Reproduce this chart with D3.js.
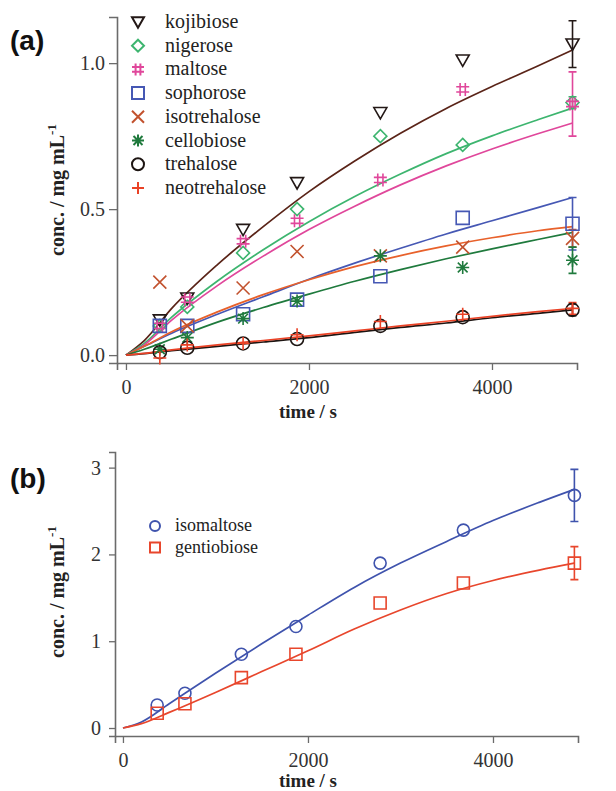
<!DOCTYPE html>
<html>
<head>
<style>
body { margin: 0; background: #fff; }
</style>
</head>
<body>
<svg id="chart" width="616" height="791"></svg>
<script src="https://d3js.org/d3.v7.min.js"></script>
<script>
// sampling times (s), both panels
var times = [370, 670, 1280, 1870, 2780, 3680, 4880];
var fitTimes = [0, 200, 500, 1000, 1500, 2000, 2500, 3000, 3500, 4000, 4500, 4880];

// ---- panel (a) ----
var namesA = ["kojibiose", "nigerose", "maltose", "sophorose", "isotrehalose", "cellobiose", "trehalose", "neotrehalose"];
var kojibiose    = [0.12, 0.195, 0.43, 0.59, 0.83, 1.01, 1.065];
var nigerose     = [0.10, 0.165, 0.35, 0.50, 0.75, 0.72, 0.865];
var maltose      = [0.10, 0.19, 0.39, 0.46, 0.60, 0.91, 0.86];
var sophorose    = [0.10, 0.10, 0.14, 0.19, 0.27, 0.47, 0.45];
var isotrehalose = [0.25, 0.10, 0.23, 0.355, 0.34, 0.37, 0.40];
var cellobiose   = [0.02, 0.06, 0.125, 0.185, 0.34, 0.30, 0.325];
var trehalose    = [0.01, 0.025, 0.04, 0.055, 0.10, 0.13, 0.155];
var neotrehalose = [-0.01, 0.035, 0.04, 0.07, 0.115, 0.14, 0.16];
// error bars, last time point only
var errA = [0.08, 0.02, 0.11, 0.09, 0.03, 0.045, 0.02, 0.02];

var fitKojibiose    = [0, 0.05, 0.16, 0.31, 0.44, 0.56, 0.665, 0.76, 0.845, 0.92, 0.99, 1.045];
var fitNigerose     = [0, 0.04, 0.13, 0.254, 0.361, 0.457, 0.543, 0.62, 0.69, 0.751, 0.806, 0.846];
var fitMaltose      = [0, 0.035, 0.12, 0.238, 0.339, 0.43, 0.51, 0.583, 0.648, 0.706, 0.758, 0.795];
var fitSophorose    = [0, 0.03, 0.075, 0.14, 0.20, 0.26, 0.315, 0.366, 0.415, 0.46, 0.505, 0.54];
var fitIsotrehalose = [0, 0.03, 0.08, 0.148, 0.207, 0.258, 0.303, 0.341, 0.374, 0.402, 0.426, 0.44];
var fitCellobiose   = [0, 0.02, 0.055, 0.113, 0.163, 0.209, 0.253, 0.293, 0.33, 0.364, 0.396, 0.42];
var fitTrehalose    = [0, 0.005, 0.015, 0.03, 0.045, 0.06, 0.078, 0.095, 0.11, 0.128, 0.143, 0.155];
var fitNeotrehalose = [0, 0.006, 0.018, 0.035, 0.05, 0.066, 0.083, 0.10, 0.116, 0.133, 0.149, 0.16];

var yTicksA = [0, 0.5, 1.0];
var xTicks = [0, 2000, 4000];

// ---- panel (b) ----
var namesB = ["isomaltose", "gentiobiose"];
var isomaltose  = [0.265, 0.40, 0.85, 1.17, 1.90, 2.28, 2.68];
var gentiobiose = [0.17, 0.28, 0.58, 0.85, 1.44, 1.67, 1.90];
var errB = [0.30, 0.19];
var fitIsomaltose  = [0, 0.07, 0.28, 0.63, 0.97, 1.30, 1.62, 1.90, 2.15, 2.39, 2.60, 2.75];
var fitGentiobiose = [0, 0.05, 0.18, 0.41, 0.65, 0.89, 1.14, 1.36, 1.55, 1.70, 1.82, 1.90];
var yTicksB = [0, 1, 2, 3];

// styles
var markA = ["tri", "diamond", "hash", "square", "cross", "star", "circle", "plus"];
var colA = ["#231816", "#3db56f", "#e0479b", "#4658b4", "#c2522e", "#1f7a3d", "#1d1512", "#ea4226"];
var lineColA = ["#5a2418", "#3db56f", "#e0479b", "#4658b4", "#e8612b", "#1f7a3d", "#1d1512", "#ea4226"];
var markB = ["circle", "square"];
var colB = ["#3f53ad", "#e8462c"];

var dataA = [kojibiose, nigerose, maltose, sophorose, isotrehalose, cellobiose, trehalose, neotrehalose];
var fitsA = [fitKojibiose, fitNigerose, fitMaltose, fitSophorose, fitIsotrehalose, fitCellobiose, fitTrehalose, fitNeotrehalose];
var dataB = [isomaltose, gentiobiose];
var fitsB = [fitIsomaltose, fitGentiobiose];

var SERIF = '"Liberation Serif", "Times New Roman", "DejaVu Serif", serif';
var SANS = '"Liberation Sans", Arial, sans-serif';

var svg = d3.select("#chart");

function markerPath(type, s) {
    var h = s / 2;
    switch (type) {
        case "tri": return "M" + (-h) + "," + (-h * 0.8) + "L" + h + "," + (-h * 0.8) + "L0," + (h * 0.95) + "Z";
        case "diamond": return "M0," + (-h) + "L" + h + ",0L0," + h + "L" + (-h) + ",0Z";
        case "square": return "M" + (-h) + "," + (-h) + "h" + s + "v" + s + "h" + (-s) + "Z";
        case "cross": return "M" + (-h) + "," + (-h) + "L" + h + "," + h + "M" + h + "," + (-h) + "L" + (-h) + "," + h;
        case "plus": return "M" + (-h) + ",0H" + h + "M0," + (-h) + "V" + h;
        case "star": return "M" + (-h) + ",0H" + h + "M0," + (-h) + "V" + h +
            "M" + (-h * 0.75) + "," + (-h * 0.75) + "L" + (h * 0.75) + "," + (h * 0.75) +
            "M" + (h * 0.75) + "," + (-h * 0.75) + "L" + (-h * 0.75) + "," + (h * 0.75);
        case "hash": var q = h * 0.4;
            return "M" + (-q) + "," + (-h) + "V" + h + "M" + q + "," + (-h) + "V" + h +
                "M" + (-h) + "," + (-q) + "H" + h + "M" + (-h) + "," + q + "H" + h;
        case "circle": return d3.symbol(d3.symbolCircle, Math.PI * h * h)();
    }
}

function drawPanel(opt) {
    var x = d3.scaleLinear().domain(opt.xDomain).range(opt.xRange);
    var y = d3.scaleLinear().domain(opt.yDomain).range(opt.yRange);
    var g = svg.append("g");

    // axes
    var yAxis = d3.axisLeft(y).tickValues(opt.yTicks).tickFormat(opt.yFmt).tickSize(opt.yTickSize).tickPadding(opt.yPad);
    var xAxis = d3.axisBottom(x).tickValues(xTicks).tickFormat(d3.format("d")).tickSize(7).tickPadding(opt.xPad);
    var ya = g.append("g").attr("transform", "translate(" + opt.xRange[0] + ",0)").call(yAxis);
    var xa = g.append("g").attr("transform", "translate(0," + opt.yRange[0] + ")").call(xAxis);
    [ya, xa].forEach(function(a) {
        a.select(".domain").attr("stroke", "#6b6b6b").attr("stroke-width", 1.6);
        a.selectAll(".tick line").attr("stroke", "#6b6b6b").attr("stroke-width", 1.3);
        a.selectAll(".tick text").style("font-family", SERIF).style("font-size", "20px").attr("fill", "#333");
    });

    // fitted curves
    var line = d3.line().x(function(d) { return x(d[0]); }).y(function(d) { return y(d[1]); })
        .curve(d3.curveMonotoneX);
    opt.fits.forEach(function(f, i) {
        g.append("path").datum(fitTimes.map(function(t, j) { return [t, f[j]]; }))
            .attr("d", line).attr("fill", "none")
            .attr("stroke", opt.lineCols[i]).attr("stroke-width", 1.7);
    });

    // error bars at last point
    opt.data.forEach(function(s, i) {
        var last = times.length - 1, xc = x(times[last]);
        var y0 = y(s[last] - opt.err[i]), y1 = y(s[last] + opt.err[i]);
        g.append("path")
            .attr("d", "M" + xc + "," + y0 + "V" + y1 + "M" + (xc - 4) + "," + y0 + "h8M" + (xc - 4) + "," + y1 + "h8")
            .attr("stroke", opt.cols[i]).attr("stroke-width", 1.6).attr("fill", "none");
    });

    // markers
    opt.data.forEach(function(s, i) {
        g.selectAll(null).data(s).enter().append("path")
            .attr("transform", function(d, j) { return "translate(" + x(times[j]) + "," + y(d) + ")"; })
            .attr("d", markerPath(opt.marks[i], opt.size))
            .attr("fill", "none").attr("stroke", opt.cols[i]).attr("stroke-width", 1.6);
    });

    // legend
    opt.names.forEach(function(n, i) {
        var ly = opt.legY + i * opt.legStep;
        g.append("path").attr("transform", "translate(" + opt.legX + "," + ly + ")")
            .attr("d", markerPath(opt.marks[i], opt.legSize))
            .attr("fill", "none").attr("stroke", opt.cols[i]).attr("stroke-width", 2);
        g.append("text").attr("x", opt.legX + opt.legGap).attr("y", ly + opt.legFont * 0.3)
            .style("font-family", SERIF).style("font-size", opt.legFont + "px")
            .attr("fill", "#222").text(n);
    });

    // titles
    var yt = g.append("text")
        .attr("transform", "translate(" + opt.yTitleX + "," + opt.yTitleY + ") rotate(-90)")
        .attr("text-anchor", "middle").attr("fill", "#222")
        .style("font-family", SERIF).style("font-weight", "bold").style("font-size", "20px");
    yt.append("tspan").text("conc. / mg mL");
    yt.append("tspan").attr("dy", -8).style("font-size", "13px").text("-1");
    g.append("text").attr("x", opt.xTitleX).attr("y", opt.xTitleY)
        .attr("text-anchor", "middle").attr("fill", "#222")
        .style("font-family", SERIF).style("font-weight", "bold").style("font-size", "19px")
        .text("time / s");
    g.append("text").attr("x", 10).attr("y", opt.panelY).attr("fill", "#111")
        .style("font-family", SANS).style("font-weight", "bold").style("font-size", "28px")
        .text(opt.panel);
}

drawPanel({
    panel: "(a)", panelY: 50,
    xDomain: [-98, 4929], xRange: [117, 577],
    yDomain: [-0.027, 1.158], yRange: [363, 17],
    yTicks: yTicksA, yFmt: d3.format(".1f"), yTickSize: 8, yPad: 4, xPad: 10,
    data: dataA, fits: fitsA, err: errA, names: namesA,
    marks: markA, cols: colA, lineCols: lineColA, size: 13, legSize: 12,
    legX: 138, legY: 22, legStep: 23.7, legGap: 27, legFont: 20,
    yTitleX: 64, yTitleY: 190, xTitleX: 308, xTitleY: 418
});

drawPanel({
    panel: "(b)", panelY: 488,
    xDomain: [-86, 4919], xRange: [115, 578],
    yDomain: [-0.092, 3.18], yRange: [736, 452],
    yTicks: yTicksB, yFmt: d3.format("d"), yTickSize: 6, yPad: 8, xPad: 10,
    data: dataB, fits: fitsB, err: errB, names: namesB,
    marks: markB, cols: colB, lineCols: colB, size: 12, legSize: 10,
    legX: 155, legY: 526, legStep: 21.5, legGap: 20, legFont: 18,
    yTitleX: 64, yTitleY: 592, xTitleX: 308, xTitleY: 787
});
</script>
</body>
</html>
